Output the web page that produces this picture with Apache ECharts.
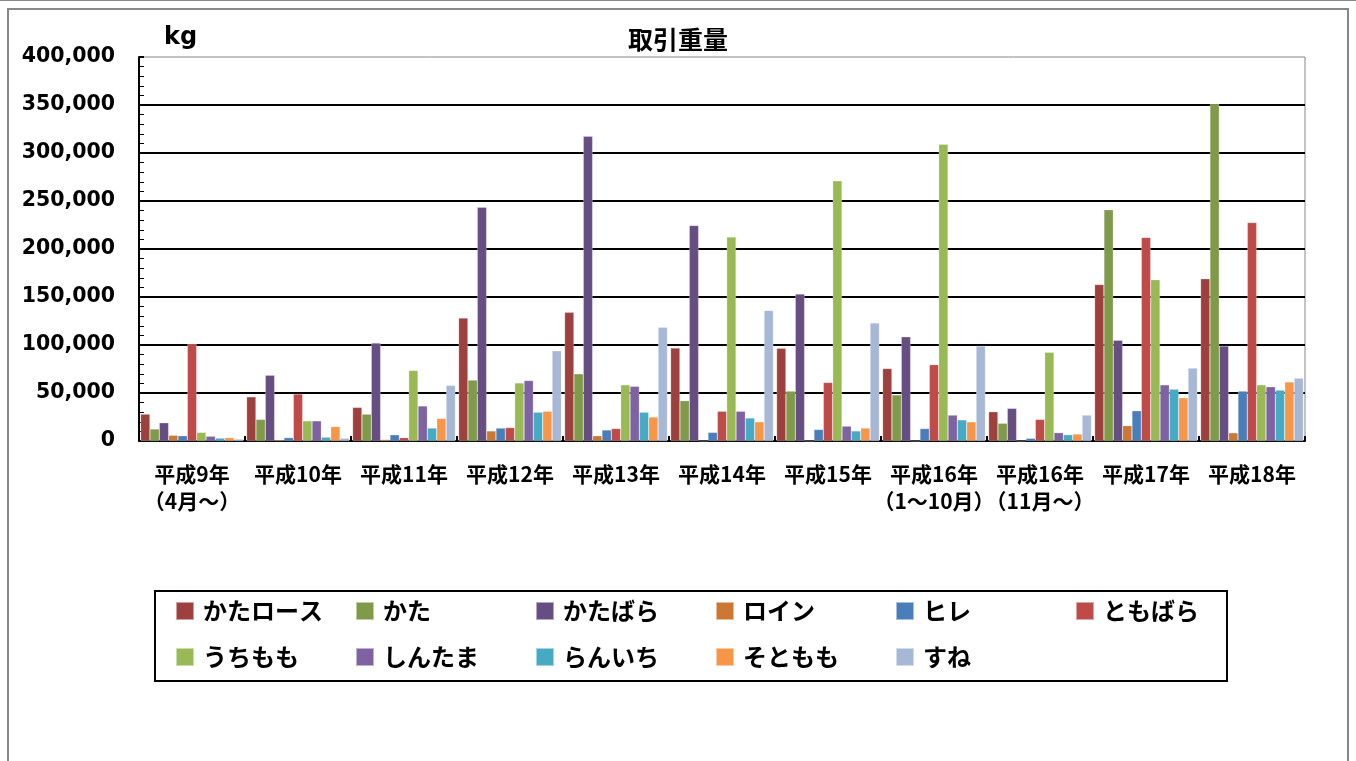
<!DOCTYPE html>
<html><head><meta charset="utf-8">
<script src="https://cdn.jsdelivr.net/npm/echarts@6/dist/echarts.min.js"></script>
<style>html,body{margin:0;padding:0;background:#fff}#c{width:1356px;height:761px}</style>
</head><body><div id="c"></div>
<script>
const categories = ['平成9年\n（4月～）','平成10年','平成11年','平成12年','平成13年','平成14年','平成15年','平成16年\n（1～10月）','平成16年\n（11月～）','平成17年','平成18年'];
const seriesNames = ['かたロース','かた','かたばら','ロイン','ヒレ','ともばら','うちもも','しんたま','らんいち','そともも','すね'];
const seriesColors = ['#9E413E','#7F9A48','#664E83','#CC7832','#4A7EBB','#BE4B48','#98B954','#7E62A1','#46AAC5','#F79646','#A7B8D6'];
const katarosu = [28000, 46000, 35000, 128000, 134000, 97000, 96500, 75500, 30500, 163000, 169000];
const kata     = [12500, 22500, 28000, 63500, 70000, 42000, 52000, 48000, 18500, 241000, 351000];
const katabara = [19000, 68500, 102000, 243500, 317500, 224500, 153000, 108500, 34000, 105000, 99000];
const loin     = [6000, 1000, 1500, 10500, 5500, 0, 0, 0, 0, 16000, 8500];
const hire     = [5500, 3500, 6500, 13500, 11500, 9000, 12000, 13000, 2800, 31500, 52000];
const tomobara = [101000, 49000, 3500, 14000, 13000, 31000, 61000, 79500, 22500, 212000, 227500];
const uchimomo = [9000, 21000, 73500, 60500, 58500, 212500, 271000, 309000, 92500, 168000, 58500];
const shintama = [5000, 21000, 36500, 63000, 57000, 31000, 15500, 27000, 8700, 58500, 56500];
const ranichi  = [3000, 4000, 13500, 30000, 30000, 24000, 10500, 22000, 6600, 54000, 53000];
const sotomomo = [3500, 15000, 23500, 31000, 25000, 20000, 13500, 20000, 7300, 45000, 61500];
const sune     = [2000, 3000, 58000, 94000, 118500, 136000, 123000, 99000, 27000, 76000, 65500];
const seriesData = [katarosu, kata, katabara, loin, hire, tomobara, uchimomo, shintama, ranichi, sotomomo, sune];
const yTicks = {min: 0, max: 400000, interval: 50000};

const chart = echarts.init(document.getElementById('c'));
const jp = '"Noto Sans CJK JP", sans-serif';
const option = {
  animation: false,
  backgroundColor: '#fff',
  title: {text: '取引重量', left: 'center', top: 22, textStyle: {fontFamily: jp, fontSize: 25, fontWeight: 'bold', color: '#000'}},
  graphic: [
    {type: 'rect', shape: {x: 0, y: 0, width: 1356, height: 1}, style: {fill: '#888'}},
    {type: 'rect', shape: {x: 8, y: 9, width: 1340, height: 770}, style: {fill: 'none', stroke: '#888', lineWidth: 2}},
    {type: 'rect', shape: {x: 155, y: 591, width: 1072, height: 90}, style: {fill: 'none', stroke: '#000', lineWidth: 2}},
    {type: 'text', left: 164, top: 26, style: {text: 'kg', font: 'bold 24px "DejaVu Sans"', fill: '#000'}}
  ],
  legend: {
    data: seriesNames,
    left: 175, top: 594, width: 1070, padding: 0,
    itemWidth: 18, itemHeight: 18, itemGap: 12,
    icon: 'rect',
    textStyle: {fontFamily: jp, fontSize: 24, fontWeight: 'bold', color: '#000', width: 140, lineHeight: 34, padding: [0,0,0,4]}
  },
  grid: {left: 139, right: 51, top: 57, bottom: 320, show: true, borderColor: '#888', borderWidth: 1},
  xAxis: {
    type: 'category', data: categories,
    axisLine: {lineStyle: {color: '#000', width: 2}},
    axisTick: {show: true, inside: true, length: 5, lineStyle: {color: '#000', width: 2}},
    axisLabel: {interval: 0, margin: 20, fontFamily: jp, fontSize: 21, fontWeight: 'bold', color: '#000', lineHeight: 27}
  },
  yAxis: {
    type: 'value', min: yTicks.min, max: yTicks.max, interval: yTicks.interval,
    axisLine: {show: true, lineStyle: {color: '#000', width: 2}},
    axisTick: {show: true, inside: true, length: 5, lineStyle: {color: '#000', width: 2}},
    minorTick: {show: true, splitNumber: 5, length: 5, lineStyle: {color: '#000', width: 1}},
    splitLine: {show: true, showMaxLine: false, lineStyle: {color: '#000', width: 2}},
    axisLabel: {margin: 24, fontFamily: '"DejaVu Sans"', fontSize: 20.5, fontWeight: 'bold', color: '#000',
      formatter: v => v.toLocaleString('en-US')}
  },
  series: seriesNames.map((n, i) => ({
    name: n, type: 'bar', data: seriesData[i],
    barGap: '0%', barCategoryGap: '3%',
    itemStyle: {color: seriesColors[i], borderColor: 'rgba(255,255,255,0.5)', borderWidth: 0.5}
  }))
};
chart.setOption(option);
</script>
</body></html>
